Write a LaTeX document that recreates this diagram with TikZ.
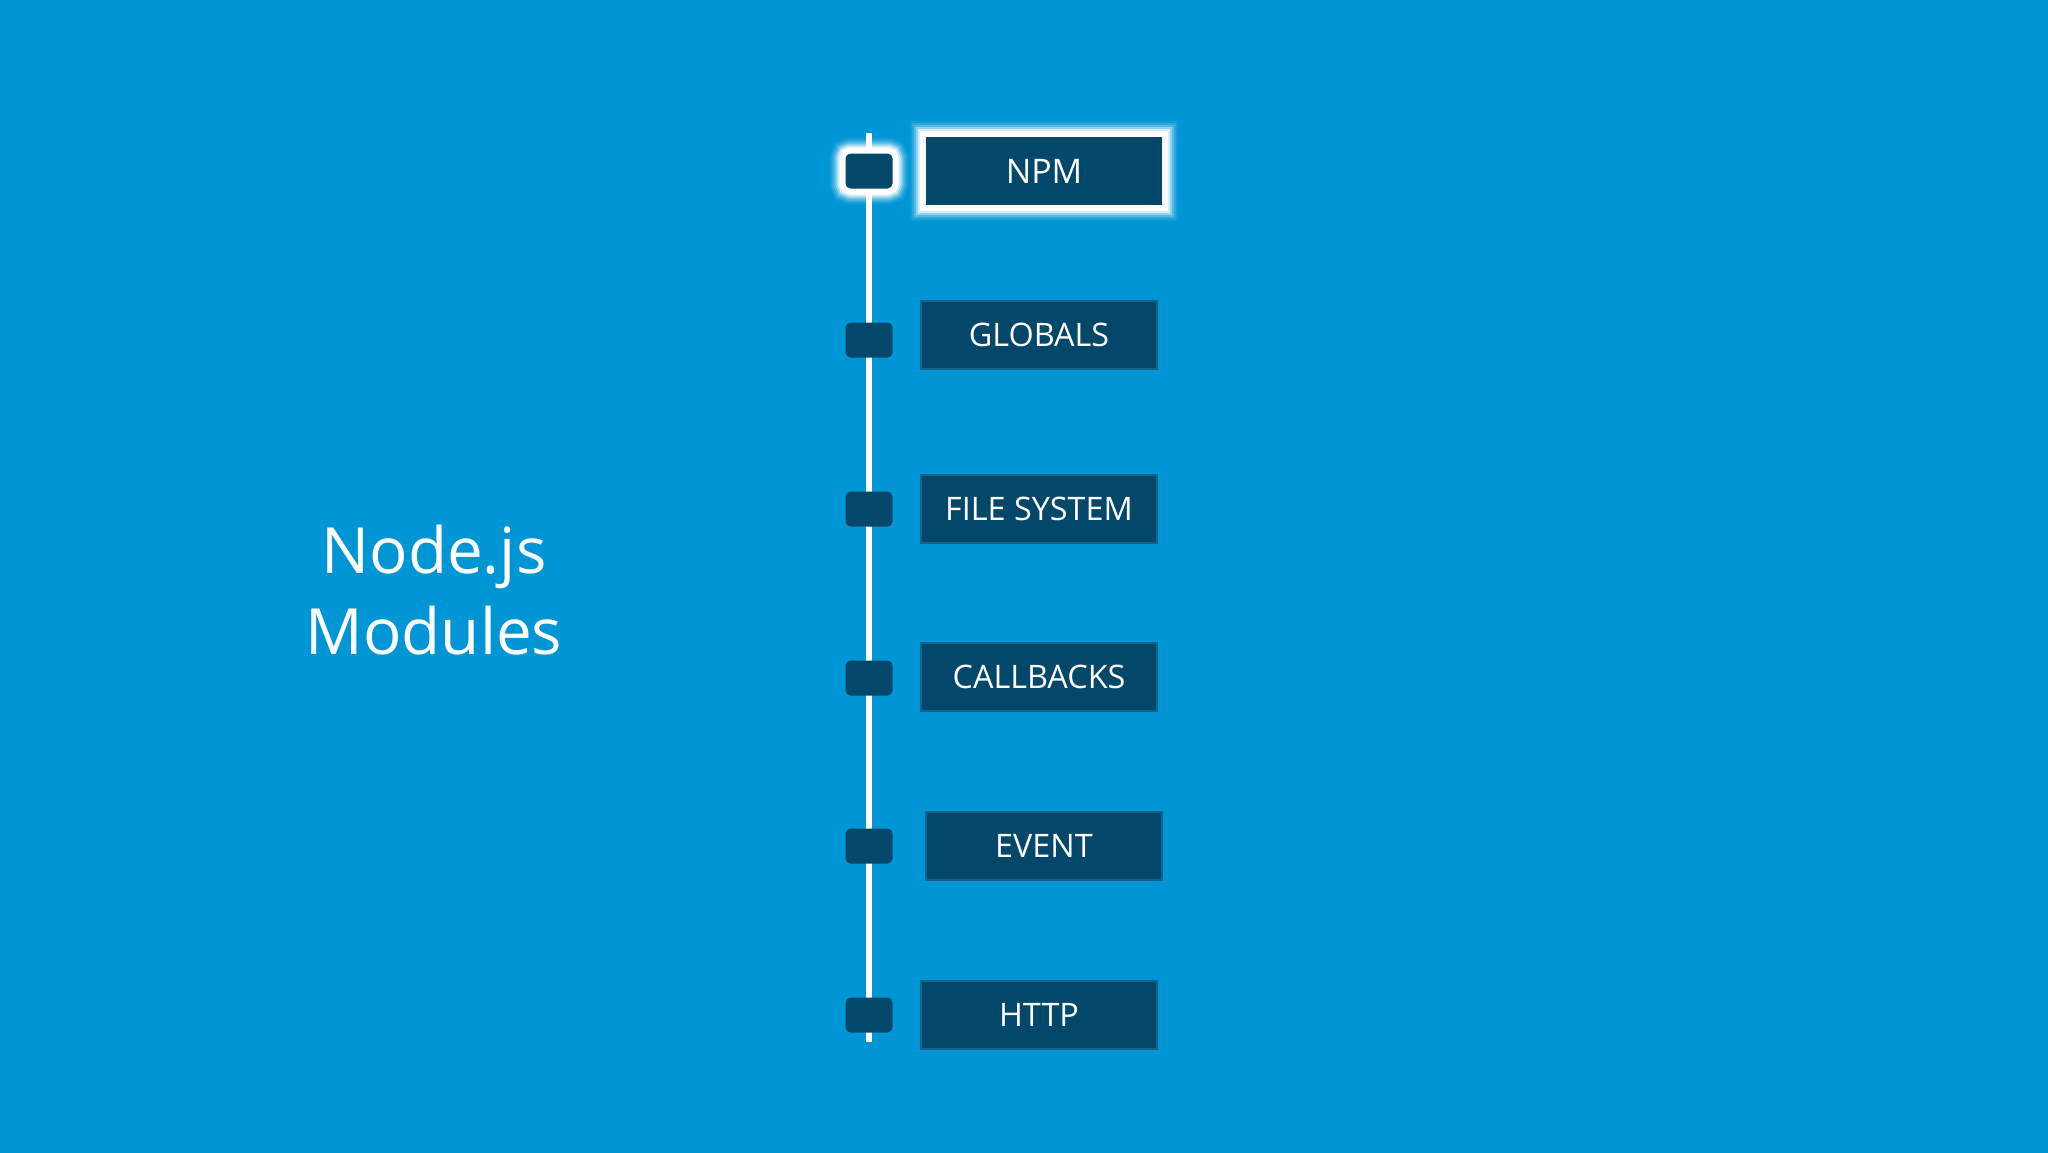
\documentclass[tikz,border=0pt]{standalone}
\usepackage{fontspec}
\setmainfont{Open Sans}
\definecolor{slide}{RGB}{0,150,214}
\definecolor{deep}{RGB}{3,72,106}
\definecolor{rim}{RGB}{18,100,142}
\def\boxwidth{236bp}
\def\boxheight{68bp}
\def\railx{869}

\begin{document}
\begin{tikzpicture}[x=1bp, y=-1bp,
                    rail/.style={draw=white, line width=5.5bp},
                    knob/.style={fill=deep, rounded corners=5bp, minimum width=47bp, minimum height=35bp, inner sep=0pt},
                    module/.style={fill=deep, draw=rim, line width=2bp, minimum width=\boxwidth, minimum height=\boxheight,
                                   inner sep=0pt, text=white, font=\fontsize{32.5}{38}\selectfont},
                    glow/.style={preaction={draw=white, opacity=.06, line width=32bp, rounded corners=12bp},
                                 preaction={draw=white, opacity=.12, line width=28bp, rounded corners=10bp},
                                 preaction={draw=white, opacity=.2, line width=24bp, rounded corners=8bp},
                                 preaction={draw=white, opacity=.35, line width=20bp, rounded corners=6bp},
                                 preaction={draw=white, opacity=.6, line width=16bp, rounded corners=4bp},
                                 preaction={draw=white, line width=12bp, rounded corners=3bp}}]
    \useasboundingbox (0,0) rectangle (2048,1152);
    \fill[slide] (-6,-6) rectangle (2054,1158);
    % the rail
    \coordinate (rail top) at (\railx,133);
    \coordinate (rail end) at (\railx,1042);
    \draw[rail] (rail top) -- (rail end);
    % highlighted entry
    \node[knob, glow] (npm-knob) at (\railx,171) {};
    \node[module, glow, draw=none, font=\fontsize{34}{40}\selectfont] (npm) at (1044,171) {NPM};
    % remaining entries
    \foreach \n/\txt/\ky/\bx/\by in {globals/GLOBALS/340/1039/335,
                                     filesystem/FILE SYSTEM/509/1039/509,
                                     callbacks/CALLBACKS/678/1039/677,
                                     event/EVENT/846/1044/846,
                                     http/HTTP/1015/1039/1015}{%
      \node[knob] (\n-knob) at (\railx,\ky) {};
      \node[module] (\n) at (\bx,\by) {\txt};}
    % title
    \node[text=white, align=center, font=\fontsize{64}{82}\selectfont] (title) at (434,590) {Node.js\\Modules};
\end{tikzpicture}
\end{document}
